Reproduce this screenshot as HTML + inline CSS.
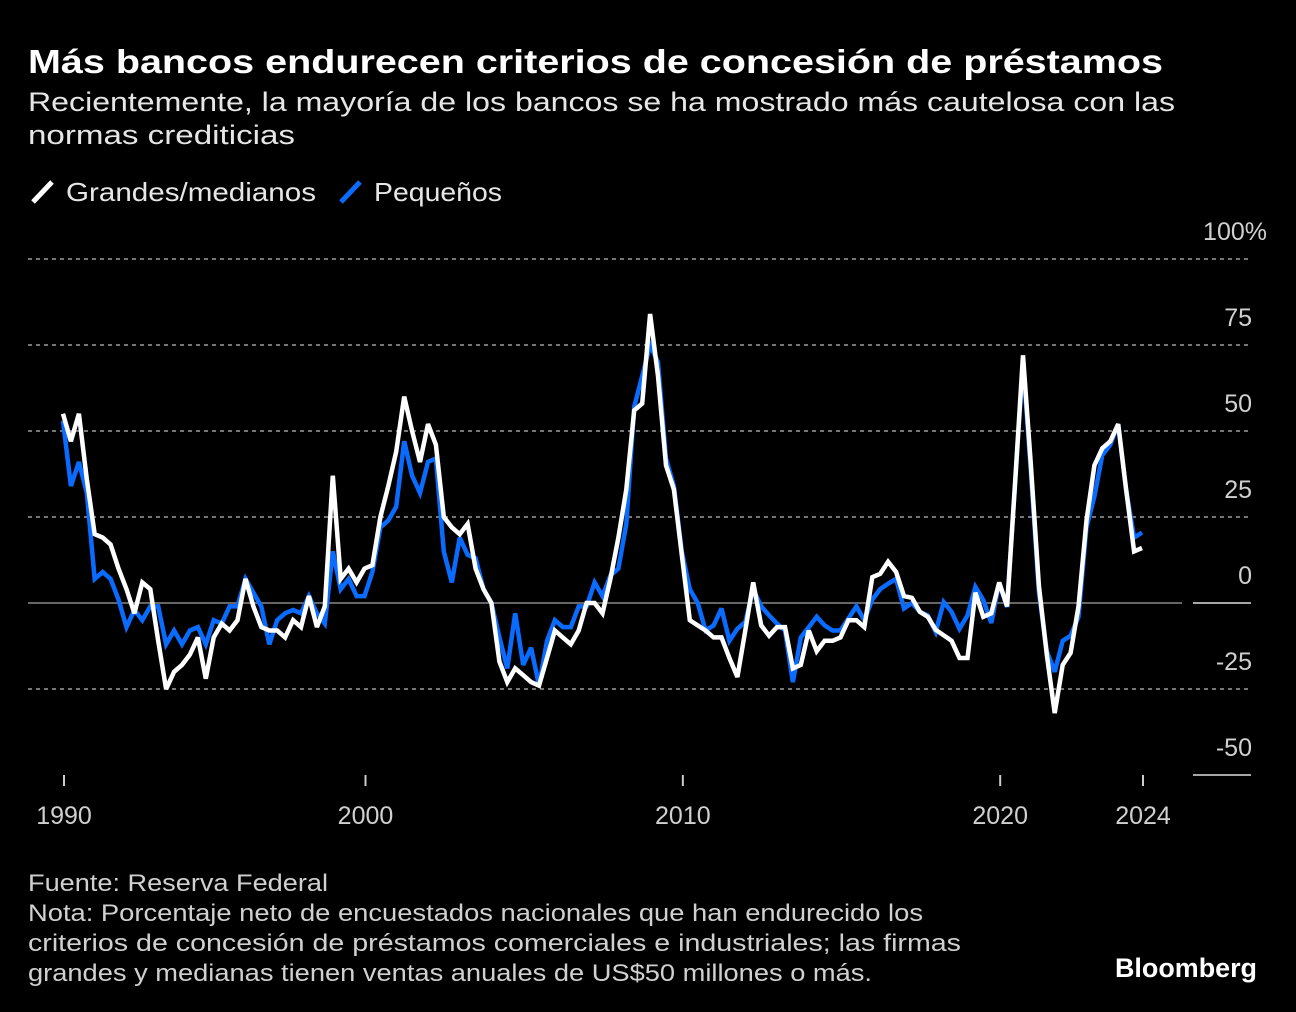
<!DOCTYPE html>
<html><head><meta charset="utf-8"><style>
html,body{margin:0;padding:0;background:#000;}
svg{display:block;font-family:"Liberation Sans","DejaVu Sans",sans-serif;}
</style></head><body>
<svg id="chart" width="1296" height="1012" viewBox="0 0 1296 1012">
<rect width="1296" height="1012" fill="#000"/>
<text x="28" y="73" font-size="33" font-weight="bold" fill="#fff" textLength="1135" lengthAdjust="spacingAndGlyphs">Más bancos endurecen criterios de concesión de préstamos</text>
<text x="28" y="111" font-size="27" fill="#e6e6e6" textLength="1147" lengthAdjust="spacingAndGlyphs">Recientemente, la mayoría de los bancos se ha mostrado más cautelosa con las</text>
<text x="28" y="144" font-size="27" fill="#e6e6e6" textLength="267" lengthAdjust="spacingAndGlyphs">normas crediticias</text>
<g>
<line x1="33" y1="202" x2="52" y2="182" stroke="#fff" stroke-width="5"/>
<text x="66" y="201" font-size="26" fill="#e6e6e6" textLength="250" lengthAdjust="spacingAndGlyphs">Grandes/medianos</text>
<line x1="341" y1="202" x2="360" y2="182" stroke="#0a6cff" stroke-width="5"/>
<text x="374" y="201" font-size="26" fill="#e6e6e6" textLength="128" lengthAdjust="spacingAndGlyphs">Pequeños</text>
</g>
<g id="grid"></g>
<g id="ylabels"></g>
<g id="xaxis"></g>
<g id="series"></g>
<g font-size="24" fill="#d0d0d0">
<text x="28" y="891" textLength="300" lengthAdjust="spacingAndGlyphs">Fuente: Reserva Federal</text>
<text x="28" y="921" textLength="895" lengthAdjust="spacingAndGlyphs">Nota: Porcentaje neto de encuestados nacionales que han endurecido los</text>
<text x="28" y="951" textLength="933" lengthAdjust="spacingAndGlyphs">criterios de concesión de préstamos comerciales e industriales; las firmas</text>
<text x="28" y="981" textLength="844" lengthAdjust="spacingAndGlyphs">grandes y medianas tienen ventas anuales de US$50 millones o más.</text>
</g>
<text x="1115" y="977" font-size="27" font-weight="bold" fill="#fff" textLength="142" lengthAdjust="spacingAndGlyphs">Bloomberg</text>
</svg>
<script>
const grandes = [55,47,55,36,20,19,17,10,4,-3,6,4,-11,-25,-20,-18,-15,-10,-22,-10,-6,-8,-5,7,-1,-7,-8,-8,-10,-5,-7,2,-7,-1,37,7,10,6,10,11,25,34,44,60,50,41,52,46,25,22,20,23,10,4,0,-17,-23,-19,-21,-23,-24,-16,-8,-10,-12,-8,0,0,-3,7,19,33,56,58,84,66,40,33,14,-5,-6.5,-8,-10,-10,-16,-21.5,-8,6,-6.5,-9.5,-7,-7,-19,-18,-8,-14,-11,-11,-10,-5,-5,-7,7.5,8.5,12,9,2,1.5,-2.6,-4,-7.8,-9.4,-11,-16,-16,3,-4,-3,6,-1,35,72,40,5,-15,-32,-18,-14.5,-1,24,40,45,47,52,33,15,16];
const pequenos = [53,34,41,32,7,9,7,1,-7,-2,-5,-1,-1,-12,-8,-12,-8,-7,-12,-5,-6,-1,-1,7,3,-1,-12,-5,-3,-2,-3,2,-3,-6,15,4,7,2,2,9,22,24,28,47,37,32,41,42,15,6,19,14,13,4,0,-10,-19,-3,-18,-13,-24,-11,-5,-7,-7,-1,-1,6,2,8,10,23,57,66,75,70,42,34,15,4,0,-8,-6.5,-1.6,-11,-7.5,-5.5,4,-1,-3.6,-6,-8,-23,-10,-7,-4,-6.5,-8,-8,-4.5,-1,-5,1,4,5.6,7,-1.6,0,-2.6,-3.6,-8.4,0.3,-2.6,-7.5,-3.6,4.7,0.8,-5.8,5.8,-1.2,35,70,38,3,-14,-20,-11,-9.5,-4,22,31,43,46,52,33,19,20.5];
const yTicks = [100,75,50,25,0,-25,-50];
const yTickLabels = ["100%","75","50","25","0","-25","-50"];
const xTickIndex = [0,38,78,118,136];
const xTickLabels = ["1990","2000","2010","2020","2024"];

const NS = "http://www.w3.org/2000/svg";
const x0 = 63, x1 = 1142, n = grandes.length;
function xs(i){ return x0 + (x1 - x0) * i / (n - 1); }
function ys(v){ return 603 - v * 3.44; }
function mk(tag, attrs, parent){ const e = document.createElementNS(NS, tag); for (const k in attrs) e.setAttribute(k, attrs[k]); parent.appendChild(e); return e; }

const grid = document.getElementById('grid');
const yl = document.getElementById('ylabels');
yTicks.forEach((v, i) => {
  const y = ys(v);
  let line;
  if (v === 0) {
    line = mk('line', {x1: 28, x2: 1182, y1: y, y2: y, stroke: '#666', 'stroke-width': 2}, grid);
    const seg = mk('line', {x1: 1193, x2: 1251, y1: y, y2: y, stroke: '#ddd', 'stroke-width': 1.5}, grid);
    
    
  } else if (v === -50) {
    line = mk('line', {x1: 1193, x2: 1251, y1: y, y2: y, stroke: '#ddd', 'stroke-width': 1.5}, grid);
  } else {
    line = mk('line', {x1: 28, x2: 1250, y1: y, y2: y, stroke: '#777', 'stroke-width': 2, 'stroke-dasharray': '4 4'}, grid);
  }
  
  
  const t = mk('text', {x: v === 100 ? 1267 : 1252, y: y - 19, 'text-anchor': 'end', 'font-size': 25, fill: '#d0d0d0'}, yl);
  t.textContent = yTickLabels[i];
  
  
});

const xa = document.getElementById('xaxis');
xTickIndex.forEach((idx, i) => {
  const x = xs(idx) + 1;
  const tk = mk('line', {x1: x, x2: x, y1: 775, y2: 786, stroke: '#ccc', 'stroke-width': 2}, xa);
  
  
  const t = mk('text', {x: x, y: 824, 'text-anchor': 'middle', 'font-size': 25, fill: '#d0d0d0'}, xa);
  t.textContent = xTickLabels[i];
  
  
});

const sg = document.getElementById('series');
function pathFor(arr){ return arr.map((v, i) => (i ? 'L' : 'M') + xs(i).toFixed(1) + ',' + ys(v).toFixed(1)).join(''); }
const pb = mk('path', {d: pathFor(pequenos), fill: 'none', stroke: '#0a6cff', 'stroke-width': 4.5, 'stroke-linejoin': 'miter', 'stroke-miterlimit': 3}, sg);


const pw = mk('path', {d: pathFor(grandes), fill: 'none', stroke: '#ffffff', 'stroke-width': 4.5, 'stroke-linejoin': 'miter', 'stroke-miterlimit': 3}, sg);


</script>
</body></html>
